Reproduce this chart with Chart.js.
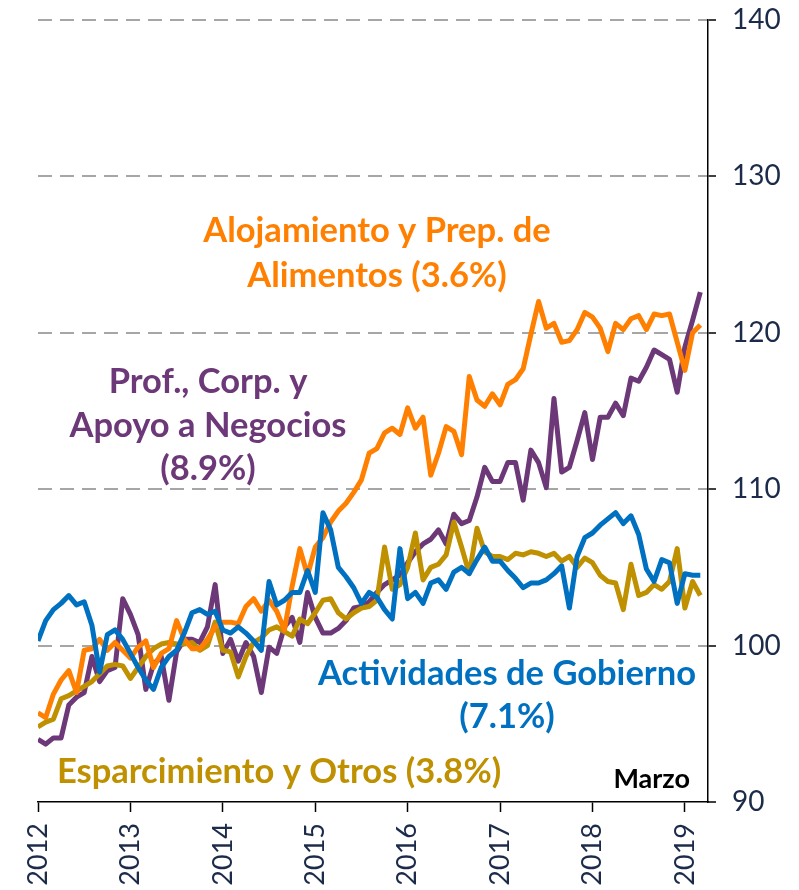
<!DOCTYPE html>
<html>
<head>
<meta charset="utf-8">
<script src="https://cdn.jsdelivr.net/npm/chart.js@4.4.1/dist/chart.umd.min.js"></script>
<style>
  html, body { margin: 0; padding: 0; background: #fff; }
</style>
</head>
<body>
<canvas id="chart" width="799" height="890"></canvas>
<script>
// Índices mensuales, enero 2012 = 0 ... marzo 2019 = 86
const years = ['2012', '2013', '2014', '2015', '2016', '2017', '2018', '2019'];
const yTicks = [90, 100, 110, 120, 130, 140];

const alojamiento = [
  95.7, 95.4, 96.9, 97.8, 98.4, 97.0, 99.7, 99.8, 100.4, 99.7, 100.2, 99.7,
  99.2, 99.9, 100.3, 98.6, 99.5, 99.8, 101.6, 100.4, 99.8, 99.8, 100.4, 101.2,
  101.5, 101.5, 101.4, 102.5, 103.0, 102.2, 102.9, 102.2, 101.0, 103.8, 106.2, 104.5,
  106.3, 106.9, 107.9, 108.6, 109.1, 109.8, 110.6, 112.3, 112.6, 113.6, 113.9, 113.5,
  115.2, 113.9, 114.6, 110.9, 112.3, 114.0, 113.7, 112.2, 117.2, 115.7, 115.3, 116.1,
  115.4, 116.7, 117.0, 117.7, 119.9, 122.0, 120.3, 120.6, 119.4, 119.5, 120.2, 121.3,
  121.0, 120.3, 118.8, 120.6, 120.2, 120.9, 121.1, 120.2, 121.2, 121.1, 121.2, 119.4,
  117.6, 120.0, 120.5
];
const profesionales = [
  94.0, 93.7, 94.1, 94.1, 96.2, 96.7, 97.0, 99.3, 97.7, 98.4, 98.6, 103.0,
  102.0, 100.7, 97.2, 98.8, 99.3, 96.5, 99.6, 100.4, 100.4, 100.2, 101.2, 103.9,
  99.5, 100.4, 99.0, 100.2, 99.3, 97.0, 99.9, 99.5, 101.2, 101.8, 100.2, 103.4,
  101.8, 100.8, 100.8, 101.1, 101.6, 102.4, 102.5, 102.8, 103.4, 103.9, 104.2, 104.5,
  105.3, 106.0, 106.5, 106.8, 107.4, 106.5, 108.4, 107.8, 108.0, 109.5, 111.4, 110.5,
  110.5, 111.7, 111.7, 109.3, 112.5, 111.7, 110.1, 115.8, 111.1, 111.4, 113.1, 114.9,
  111.9, 114.6, 114.6, 115.5, 114.7, 117.1, 116.9, 117.8, 118.9, 118.6, 118.3, 116.2,
  119.1, 120.8, 122.6
];
const gobierno = [
  100.3, 101.6, 102.3, 102.7, 103.2, 102.6, 102.8, 101.3, 98.3, 100.7, 101.0, 100.4,
  99.5, 98.6, 97.8, 97.2, 98.6, 99.3, 99.7, 100.8, 102.1, 102.3, 102.0, 102.2,
  101.0, 100.8, 101.2, 100.8, 100.3, 99.7, 104.1, 102.6, 102.9, 103.4, 103.4, 104.8,
  103.4, 108.5, 107.4, 105.0, 104.4, 103.7, 102.7, 103.4, 103.1, 102.3, 101.7, 106.2,
  103.0, 103.4, 102.7, 104.0, 104.2, 103.6, 104.7, 105.0, 104.6, 105.5, 106.3, 105.4,
  105.4, 104.8, 104.3, 103.7, 104.0, 104.0, 104.2, 104.6, 105.1, 102.4, 105.7, 106.9,
  107.2, 107.7, 108.1, 108.5, 107.8, 108.3, 107.1, 104.9, 104.1, 105.5, 105.3, 102.7,
  104.6, 104.5, 104.5
];
const esparcimiento = [
  94.8, 95.1, 95.3, 96.6, 96.8, 97.1, 97.4, 97.7, 98.2, 98.7, 98.8, 98.7,
  97.9, 98.6, 99.3, 99.8, 100.1, 100.2, 100.1, 100.1, 100.2, 99.7, 100.0, 101.5,
  99.7, 99.6, 98.0, 99.3, 100.2, 100.5, 101.0, 101.2, 100.9, 100.6, 101.7, 101.4,
  102.1, 102.9, 103.0, 102.1, 101.7, 102.1, 102.4, 102.5, 102.9, 106.3, 103.6, 103.9,
  105.0, 107.2, 104.2, 105.0, 105.2, 105.8, 107.9, 106.3, 104.6, 107.5, 106.0, 105.7,
  105.7, 105.5, 105.9, 105.8, 106.0, 105.9, 105.7, 105.9, 105.4, 105.7, 105.0, 105.6,
  105.3, 104.5, 104.1, 104.0, 102.3, 105.2, 103.2, 103.4, 103.9, 103.6, 104.1, 106.2,
  102.4, 104.1, 103.2
];

const colores = {
  alojamiento: '#ff7f00',
  profesionales: '#6c3878',
  gobierno: '#0070c0',
  esparcimiento: '#bf9000'
};
const textoEje = '#1c2b4a';
const fuente = "Lato, 'Open Sans', sans-serif";

const toXY = arr => arr.map((v, i) => ({ x: i, y: v }));

// Etiquetas de texto sobre el gráfico
const notas = [
  { text: 'Alojamiento y Prep. de', x: 377, y: 231, color: colores.alojamiento },
  { text: 'Alimentos (3.6%)', x: 377, y: 276, color: colores.alojamiento },
  { text: 'Prof., Corp. y', x: 208, y: 382, color: colores.profesionales },
  { text: 'Apoyo a Negocios', x: 208, y: 426, color: colores.profesionales },
  { text: '(8.9%)', x: 208, y: 469, color: colores.profesionales },
  { text: 'Actividades de Gobierno', x: 507, y: 674, color: colores.gobierno },
  { text: '(7.1%)', x: 507, y: 717, color: colores.gobierno },
  { text: 'Esparcimiento y Otros (3.8%)', x: 279, y: 772, color: colores.esparcimiento }
];

const notasPlugin = {
  id: 'notas',
  afterDatasetsDraw(chart) {
    const ctx = chart.ctx;
    ctx.save();
    ctx.textBaseline = 'middle';
    ctx.textAlign = 'center';
    ctx.font = 'bold 34.5px ' + fuente;
    notas.forEach(n => {
      ctx.fillStyle = n.color;
      ctx.fillText(n.text, n.x, n.y);
    });
    ctx.font = 'bold 27px ' + fuente;
    ctx.fillStyle = '#000';
    ctx.textAlign = 'right';
    ctx.fillText('Marzo', 690, 779);
    ctx.restore();
  }
};

new Chart(document.getElementById('chart').getContext('2d'), {
  type: 'line',
  data: {
    datasets: [
      { label: 'Actividades de Gobierno', data: toXY(gobierno), borderColor: colores.gobierno, order: 1 },
      { label: 'Alojamiento y Prep. de Alimentos', data: toXY(alojamiento), borderColor: colores.alojamiento, order: 2 },
      { label: 'Esparcimiento y Otros', data: toXY(esparcimiento), borderColor: colores.esparcimiento, order: 3 },
      { label: 'Prof., Corp. y Apoyo a Negocios', data: toXY(profesionales), borderColor: colores.profesionales, order: 4 }
    ]
  },
  options: {
    responsive: false,
    animation: false,
    layout: { padding: { left: 38, top: 20, right: 0, bottom: 0 } },
    plugins: { legend: { display: false }, tooltip: { enabled: false } },
    elements: {
      point: { radius: 0 },
      line: { tension: 0, borderWidth: 5, borderJoinStyle: 'round', fill: false }
    },
    scales: {
      x: {
        type: 'linear',
        min: 0,
        max: 87,
        border: { display: true, color: '#000', width: 1.5 },
        grid: { drawOnChartArea: false, drawTicks: true, tickLength: 10, tickColor: '#000', tickWidth: 1.5 },
        ticks: {
          stepSize: 12,
          includeBounds: false,
          autoSkip: false,
          minRotation: 90,
          maxRotation: 90,
          padding: 11,
          color: textoEje,
          font: { family: fuente, size: 27 },
          callback: v => years[v / 12]
        },
        afterFit: s => { s.height = 88; s.paddingLeft = 0; s.paddingRight = 0; }
      },
      y: {
        position: 'right',
        min: yTicks[0],
        max: yTicks[yTicks.length - 1],
        border: { display: true, color: '#000', width: 1.5, dash: [14, 8] },
        grid: {
          color: c => c.tick && c.tick.value === yTicks[0] ? 'rgba(0,0,0,0)' : '#a6a6a6',
          lineWidth: 2,
          tickLength: 8,
          tickColor: '#000',
          tickWidth: 1.5,
          tickBorderDash: []
        },
        ticks: {
          stepSize: 10,
          padding: 16,
          color: textoEje,
          font: { family: fuente, size: 28 }
        },
        afterFit: s => { s.width = 91; s.paddingTop = 0; s.paddingBottom = 0; }
      }
    }
  },
  plugins: [notasPlugin]
});
</script>
</body>
</html>
